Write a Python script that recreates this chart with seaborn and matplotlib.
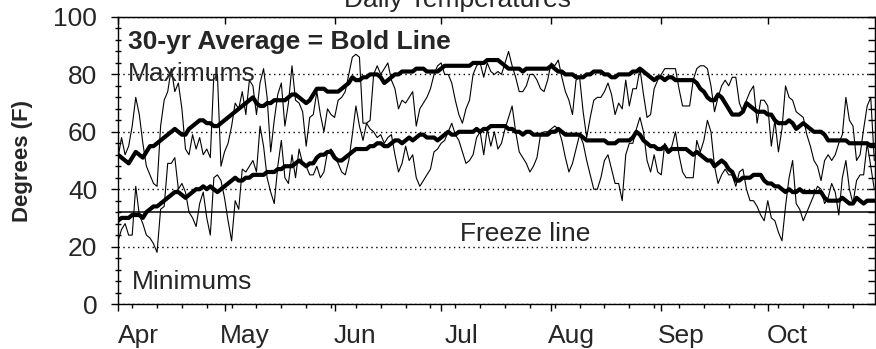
import numpy as np
import matplotlib
matplotlib.use("Agg")
import matplotlib.pyplot as plt
from matplotlib.transforms import ScaledTranslation
import seaborn as sns

# ---------------- data ----------------
month_labels = ["Apr", "May", "Jun", "Jul", "Aug", "Sep", "Oct"]
month_start_day = [0, 30, 61, 91, 122, 153, 183]   # day index of 1st of month (Apr 1 = 0)
freeze_temp = 32

avg_max = [
    52, 51, 50, 49, 51, 53, 52, 51, 53, 55,
    55, 56, 57, 58, 59, 60, 61, 60, 59, 59,
    61, 62, 63, 64, 64, 63, 63, 62, 62, 63,
    64, 65, 66, 67, 68, 69, 70, 71, 72, 70,
    69, 69, 70, 70, 71, 71, 71, 71, 72, 73,
    73, 72, 71, 70, 71, 73, 75, 75, 75, 74,
    74, 74, 74, 75, 76, 77, 79, 78, 78, 79,
    79, 80, 80, 80, 79, 77, 78, 79, 80, 80,
    81, 81, 81, 81, 82, 82, 82, 81, 81, 81,
    81, 82, 83, 83, 83, 83, 83, 83, 83, 83,
    84, 84, 84, 84, 85, 85, 85, 85, 84, 83,
    82, 82, 82, 82, 81, 82, 82, 82, 82, 82,
    82, 82, 83, 82, 81, 81, 80, 80, 80, 79,
    79, 79, 80, 80, 81, 81, 81, 80, 80, 79,
    79, 80, 80, 80, 80, 81, 81, 82, 81, 80,
    79, 78, 79, 79, 78, 79, 79, 78, 78, 78,
    78, 78, 78, 77, 75, 74, 72, 71, 71, 73,
    72, 70, 68, 66, 66, 66, 67, 70, 69, 68,
    67, 67, 67, 66, 66, 64, 63, 63, 63, 64,
    63, 61, 62, 63, 62, 61, 60, 60, 60, 59,
    57, 57, 57, 57, 57, 57, 56, 56, 56, 56,
    56, 56, 55, 55,
]

avg_min = [
    29, 30, 30, 30, 31, 31, 31, 30, 32, 33,
    34, 34, 35, 36, 37, 38, 39, 39, 38, 37,
    38, 39, 40, 40, 41, 40, 41, 40, 39, 40,
    41, 42, 43, 44, 43, 43, 44, 44, 45, 45,
    45, 45, 46, 46, 46, 47, 47, 48, 48, 48,
    49, 50, 49, 48, 49, 49, 51, 52, 52, 53,
    53, 51, 50, 50, 51, 52, 53, 54, 54, 54,
    54, 55, 55, 56, 56, 55, 55, 56, 57, 57,
    56, 57, 58, 57, 58, 59, 59, 58, 58, 58,
    57, 58, 59, 60, 59, 59, 60, 60, 60, 60,
    60, 61, 60, 61, 61, 62, 62, 62, 62, 62,
    61, 61, 60, 60, 59, 60, 60, 59, 59, 59,
    59, 59, 60, 60, 61, 60, 59, 59, 59, 59,
    59, 58, 57, 57, 57, 57, 57, 57, 56, 56,
    56, 57, 57, 57, 57, 58, 60, 59, 57, 56,
    55, 55, 54, 54, 55, 53, 54, 54, 54, 54,
    54, 53, 52, 53, 52, 51, 50, 50, 48, 49,
    50, 49, 47, 46, 43, 43, 44, 44, 44, 45,
    45, 45, 43, 42, 42, 41, 41, 40, 39, 40,
    39, 39, 40, 39, 39, 39, 39, 39, 39, 37,
    36, 36, 36, 36, 37, 36, 35, 35, 37, 36,
    35, 36, 36, 36,
]

daily_max = [
    51, 58, 52, 55, 62, 72, 66, 56, 48, 45,
    42, 41, 62, 71, 74, 82, 74, 77, 68, 54,
    52, 59, 54, 58, 52, 54, 51, 80, 80, 48,
    53, 56, 62, 70, 68, 74, 66, 78, 76, 66,
    77, 82, 72, 53, 64, 73, 77, 62, 70, 83,
    71, 70, 67, 55, 65, 66, 74, 66, 60, 68,
    66, 65, 71, 72, 74, 80, 86, 87, 86, 63,
    63, 64, 80, 83, 80, 82, 84, 78, 75, 68,
    71, 70, 72, 74, 62, 68, 70, 72, 75, 80,
    83, 84, 80, 80, 77, 71, 66, 63, 68, 71,
    80, 83, 84, 79, 84, 81, 80, 81, 80, 84,
    88, 83, 79, 74, 74, 76, 80, 80, 78, 75,
    74, 78, 84, 83, 85, 79, 74, 71, 66, 78,
    79, 67, 58, 65, 71, 72, 72, 74, 77, 73,
    66, 70, 68, 78, 69, 75, 75, 82, 73, 65,
    66, 75, 78, 80, 82, 82, 82, 82, 75, 69,
    69, 69, 78, 82, 83, 83, 82, 76, 67, 72,
    76, 78, 76, 79, 79, 70, 67, 71, 74, 76,
    63, 71, 71, 69, 55, 64, 53, 61, 76, 72,
    71, 67, 66, 65, 59, 55, 50, 48, 43, 50,
    52, 50, 52, 56, 59, 72, 64, 62, 50, 52,
    61, 69, 72, 50,
]

daily_min = [
    22, 26, 28, 24, 24, 41, 31, 28, 24, 23,
    21, 18, 33, 34, 49, 49, 51, 40, 42, 39,
    32, 30, 27, 35, 39, 30, 24, 44, 45, 43,
    37, 29, 22, 36, 33, 47, 46, 48, 50, 46,
    62, 55, 44, 39, 35, 48, 57, 44, 42, 52,
    44, 54, 49, 48, 45, 45, 48, 44, 46, 53,
    54, 52, 49, 46, 45, 50, 59, 69, 62, 57,
    63, 61, 60, 58, 59, 56, 58, 59, 52, 46,
    49, 55, 50, 52, 44, 41, 43, 45, 47, 53,
    54, 56, 57, 60, 63, 59, 57, 53, 49, 50,
    52, 58, 60, 52, 61, 55, 60, 54, 56, 61,
    65, 69, 60, 53, 51, 49, 46, 48, 51, 59,
    60, 60, 61, 62, 61, 57, 51, 46, 49, 54,
    59, 56, 50, 45, 40, 40, 44, 50, 52, 47,
    42, 42, 36, 52, 56, 56, 61, 65, 60, 50,
    46, 52, 46, 45, 56, 53, 55, 60, 52, 46,
    44, 44, 44, 57, 53, 57, 64, 60, 48, 42,
    45, 47, 45, 45, 41, 46, 47, 40, 36, 36,
    34, 31, 29, 36, 30, 29, 25, 22, 34, 44,
    50, 35, 33, 29, 32, 35, 38, 41, 40, 35,
    37, 42, 39, 31, 44, 50, 40, 35, 43, 45,
    45, 56, 48, 40,
]

days = np.arange(len(daily_max))

# ---------------- style ----------------
sns.set_style("ticks")
plt.rcParams["font.family"] = ["Liberation Sans", "DejaVu Sans"]
FS = 19

fig = plt.figure(figsize=(8.76, 3.49), dpi=100)
W, H = 876, 349
ax = fig.add_axes([118 / W, 1 - 304 / H, (875 - 118) / W, (304 - 17) / H])

# daily lines (thin) and 30-yr averages (bold)
sns.lineplot(x=days, y=daily_max, ax=ax, color="black", linewidth=0.8)
sns.lineplot(x=days, y=daily_min, ax=ax, color="black", linewidth=0.8)
sns.lineplot(x=days, y=avg_max, ax=ax, color="black", linewidth=3.0)
sns.lineplot(x=days, y=avg_min, ax=ax, color="black", linewidth=3.0)

ax.axhline(freeze_temp, color="black", linewidth=1.1, zorder=1)

ax.set_xlim(0, 213.2)
ax.set_ylim(0, 100)

# grid (dotted) on major y ticks
ax.set_yticks(np.arange(0, 101, 20))
ax.set_yticks(np.arange(0, 101, 4), minor=True)
ax.grid(axis="y", which="major", color="black", linestyle=(0, (1, 2.5)), linewidth=1.0)
ax.grid(axis="x", visible=False)

# x ticks
ax.set_xticks(month_start_day)
ax.set_xticklabels(month_labels)
ax.set_xticks(np.arange(4, 214, 7), minor=True)
ax.tick_params(axis="x", which="major", direction="out", length=5, width=1,
               labelsize=FS, pad=9.5, color="black")
ax.tick_params(axis="x", which="minor", direction="out", length=3, width=1, color="black")
offset = ScaledTranslation(20 / 100, 0, fig.dpi_scale_trans)
for lab in ax.get_xticklabels():
    lab.set_transform(lab.get_transform() + offset)

ax.tick_params(axis="y", which="major", direction="out", length=5, width=1,
               labelsize=FS, pad=10, color="black")
ax.tick_params(axis="y", which="minor", direction="inout", length=5, width=1, color="black")

for s in ax.spines.values():
    s.set_color("black")
    s.set_linewidth(1.0)
    s.set_visible(True)

# top axis: inward month ticks; right axis: inward ticks every 4 degrees
top = ax.secondary_xaxis("top")
top.set_xticks(month_start_day)
top.tick_params(direction="in", length=5, width=1, labeltop=False, color="black")
right = ax.secondary_yaxis("right")
right.set_yticks(np.arange(0, 101, 4))
right.tick_params(direction="in", length=5, width=1, labelright=False, color="black")

ax.set_xlabel("")
ax.set_ylabel("Degrees (F)", fontsize=16, fontweight="bold")
ax.yaxis.set_label_coords((33 - 118) / 757, 0.5)

# annotations
ax.text(2.8, 91.2, "30-yr Average = Bold Line", fontsize=FS, fontweight="bold",
        ha="left", va="center")
ax.text(2.8, 80.3, "Maximums", fontsize=FS, ha="left", va="center")
ax.text(3.9, 7.5, "Minimums", fontsize=FS, ha="left", va="center")
ax.text(96.3, 24.5, "Freeze line", fontsize=FS, ha="left", va="center")

fig.text(457 / W, 1 - 7 / H, "Daily Temperatures", fontsize=FS, ha="center", va="baseline")

fig.savefig("out.png", dpi=100)
